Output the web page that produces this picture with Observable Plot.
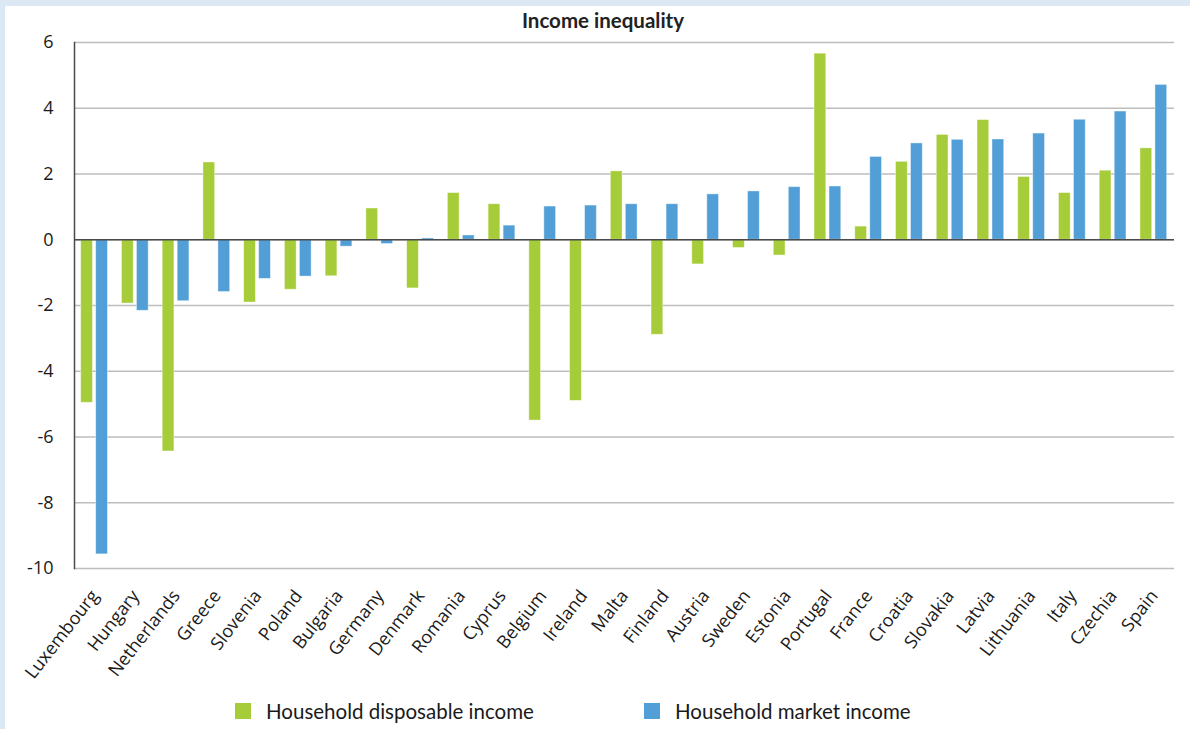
<!DOCTYPE html>
<html>
<head>
<meta charset="utf-8">
<script src="https://cdn.jsdelivr.net/npm/d3@7"></script>
<script src="https://cdn.jsdelivr.net/npm/@observablehq/plot@0.6"></script>
<style>
  html, body { margin: 0; padding: 0; }
  body { width: 1190px; height: 729px; background: #dce9f5; position: relative; overflow: hidden; }
  #panel { position: absolute; left: 5px; top: 6px; right: 0; bottom: 0; background: #ffffff; }
  #title { position: absolute; left: 0; width: 1206px; top: 8px; text-align: center; font: bold 20.5px Lato, "Open Sans", sans-serif; color: #222; }
  #chart { position: absolute; left: 0; top: 0; }
  .legend { position: absolute; top: 699px; font: 20.5px Lato, "Open Sans", sans-serif; color: #1a1a1a; display: flex; align-items: center; }
  .legend .sw { width: 16px; height: 16px; margin-right: 15px; }
</style>
</head>
<body>
<div id="panel"></div>
<div id="title">Income inequality</div>
<div id="chart"></div>
<div class="legend" style="left:235px"><span class="sw" style="background:#a6cd39"></span>Household disposable income</div>
<div class="legend" style="left:644px"><span class="sw" style="background:#529fd7"></span>Household market income</div>
<script>
const countries = ["Luxembourg","Hungary","Netherlands","Greece","Slovenia","Poland","Bulgaria","Germany","Denmark","Romania","Cyprus","Belgium","Ireland","Malta","Finland","Austria","Sweden","Estonia","Portugal","France","Croatia","Slovakia","Latvia","Lithuania","Italy","Czechia","Spain"];
const disposable = [-4.96,-1.94,-6.44,2.35,-1.91,-1.52,-1.11,0.95,-1.48,1.42,1.08,-5.50,-4.90,2.08,-2.89,-0.75,-0.25,-0.48,5.66,0.40,2.37,3.19,3.64,1.91,1.42,2.10,2.78];
const market = [-9.57,-2.16,-1.87,-1.59,-1.19,-1.12,-0.21,-0.13,0.04,0.13,0.43,1.01,1.04,1.08,1.08,1.38,1.47,1.60,1.62,2.52,2.93,3.04,3.05,3.23,3.65,3.90,4.71];
const yTicks = [-10,-8,-6,-4,-2,0,2,4,6];
const seriesNames = ["Household disposable income","Household market income"];
const colors = ["#a6cd39","#529fd7"];

const rows = countries.map((c, i) => ({country: c, disposable: disposable[i], market: market[i]}));

const chart = Plot.plot({
  width: 1190,
  height: 700,
  marginLeft: 74,
  marginRight: 16,
  marginTop: 42,
  marginBottom: 132,
  style: {background: "transparent", color: "#1a1a1a"},
  x: {domain: countries, padding: 0, round: false, label: null},
  y: {domain: [-10, 6], label: null},
  marks: [
    Plot.gridY(yTicks, {stroke: "#bdbdbd", strokeOpacity: 1, strokeWidth: 1.3}),
    Plot.barY(rows, {x: "country", y: "disposable", fill: colors[0], insetLeft: 6.7, insetRight: 22.3, stroke: "#ffffff", strokeOpacity: 0.5, strokeWidth: 0.8}),
    Plot.barY(rows, {x: "country", y: "market", fill: colors[1], insetLeft: 21.7, insetRight: 7.3, stroke: "#ffffff", strokeOpacity: 0.5, strokeWidth: 0.8}),
    Plot.ruleY([0], {stroke: "#4a4a4a", strokeWidth: 1.5}),
    Plot.frame({anchor: "left", stroke: "#4a4a4a", strokeWidth: 1.5}),
    Plot.axisY(yTicks, {tickSize: 0, tickPadding: 21, tickFormat: d => String(d), fontSize: 18, fontFamily: "Open Sans", fill: "#1a1a1a"}),
    Plot.axisX({tickSize: 0, tickPadding: 24, tickRotate: -52, fontSize: 18, fontFamily: "Open Sans", fill: "#1a1a1a"})
  ]
});
document.getElementById("chart").appendChild(chart);
</script>
</body>
</html>
